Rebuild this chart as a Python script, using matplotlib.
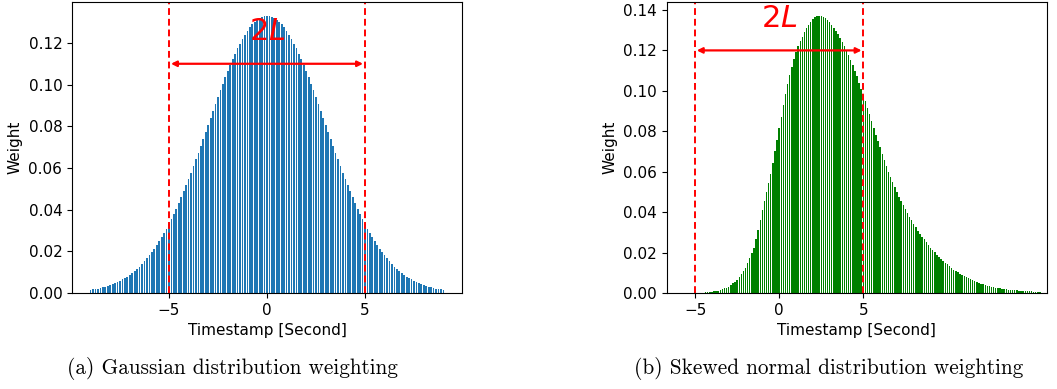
import numpy as np
import matplotlib
matplotlib.use("Agg")
import matplotlib.pyplot as plt

#------------------------------------------------------------------------------#
# Gaussian weights, one bar per 0.125 s from -9 s to 9 s

gauss_weights = [
    0.0015, 0.0017, 0.0019, 0.0021, 0.0024, 0.0027, 0.0030, 0.0034, 0.0038,
    0.0042, 0.0047, 0.0053, 0.0058, 0.0065, 0.0072, 0.0079, 0.0087, 0.0096,
    0.0106, 0.0116, 0.0127, 0.0139, 0.0152, 0.0166, 0.0180, 0.0196, 0.0212,
    0.0229, 0.0248, 0.0267, 0.0288, 0.0309, 0.0332, 0.0355, 0.0380, 0.0405,
    0.0432, 0.0459, 0.0488, 0.0517, 0.0547, 0.0578, 0.0609, 0.0641, 0.0673,
    0.0706, 0.0740, 0.0773, 0.0807, 0.0840, 0.0874, 0.0907, 0.0940, 0.0972,
    0.1004, 0.1035, 0.1065, 0.1094, 0.1122, 0.1149, 0.1174, 0.1197, 0.1219,
    0.1240, 0.1258, 0.1275, 0.1289, 0.1301, 0.1312, 0.1320, 0.1325, 0.1329,
    0.1330,
    0.1329, 0.1325, 0.1320, 0.1312, 0.1301, 0.1289, 0.1275, 0.1258, 0.1240,
    0.1219, 0.1197, 0.1174, 0.1149, 0.1122, 0.1094, 0.1065, 0.1035, 0.1004,
    0.0972, 0.0940, 0.0907, 0.0874, 0.0840, 0.0807, 0.0773, 0.0740, 0.0706,
    0.0673, 0.0641, 0.0609, 0.0578, 0.0547, 0.0517, 0.0488, 0.0459, 0.0432,
    0.0405, 0.0380, 0.0355, 0.0332, 0.0309, 0.0288, 0.0267, 0.0248, 0.0229,
    0.0212, 0.0196, 0.0180, 0.0166, 0.0152, 0.0139, 0.0127, 0.0116, 0.0106,
    0.0096, 0.0087, 0.0079, 0.0072, 0.0065, 0.0058, 0.0053, 0.0047, 0.0042,
    0.0038, 0.0034, 0.0030, 0.0027, 0.0024, 0.0021, 0.0019, 0.0017, 0.0015,
]
gauss_start, gauss_stop = -9.0, 9.0

# Skewed normal weights, one bar per 0.125 s from -5.5 s to 15.5 s
skew_weights = [
    0.0000, 0.0000, 0.0000, 0.0001, 0.0001, 0.0001, 0.0001, 0.0002,
    0.0002, 0.0003, 0.0004, 0.0005, 0.0006, 0.0008, 0.0010, 0.0012,
    0.0015, 0.0019, 0.0023, 0.0027, 0.0032, 0.0039, 0.0047, 0.0056,
    0.0065, 0.0078, 0.0092, 0.0108, 0.0125, 0.0147, 0.0171, 0.0197,
    0.0225, 0.0266, 0.0312, 0.0360, 0.0410, 0.0455, 0.0500, 0.0545,
    0.0590, 0.0645, 0.0700, 0.0758, 0.0815, 0.0872, 0.0930, 0.0985,
    0.1035, 0.1080, 0.1120, 0.1157, 0.1192, 0.1220, 0.1245, 0.1268,
    0.1290, 0.1310, 0.1327, 0.1342, 0.1355, 0.1363, 0.1368, 0.1371,
    0.1370, 0.1366, 0.1359, 0.1350, 0.1340, 0.1326, 0.1311, 0.1296,
    0.1280, 0.1261, 0.1241, 0.1221, 0.1200, 0.1176, 0.1151, 0.1126,
    0.1100, 0.1071, 0.1041, 0.1011, 0.0980, 0.0948, 0.0915, 0.0883,
    0.0850, 0.0817, 0.0784, 0.0752, 0.0720, 0.0689, 0.0659, 0.0629,
    0.0600, 0.0574, 0.0549, 0.0524, 0.0500, 0.0477, 0.0455, 0.0434,
    0.0414, 0.0395, 0.0377, 0.0359, 0.0342, 0.0325, 0.0309, 0.0294,
    0.0279, 0.0265, 0.0251, 0.0238, 0.0225, 0.0213, 0.0201, 0.0190,
    0.0179, 0.0169, 0.0159, 0.0150, 0.0141, 0.0132, 0.0124, 0.0116,
    0.0109, 0.0102, 0.0095, 0.0089, 0.0083, 0.0077, 0.0072, 0.0067,
    0.0062, 0.0058, 0.0054, 0.0050, 0.0046, 0.0043, 0.0040, 0.0037,
    0.0034, 0.0032, 0.0029, 0.0027, 0.0025, 0.0023, 0.0022, 0.0020,
    0.0019, 0.0017, 0.0016, 0.0015, 0.0014, 0.0013, 0.0012, 0.0011,
    0.0010, 0.0010, 0.0009, 0.0008, 0.0008, 0.0007, 0.0007, 0.0006,
    0.0006,
]
skew_start, skew_stop = -5.5, 15.5

half_window = 5        # L, in seconds
x_ticks     = [-5, 0, 5]
captions    = ["(a) Gaussian distribution weighting",
               "(b) Skewed normal distribution weighting"]

#------------------------------------------------------------------------------#

def draw_panel(ax, weights, start, stop, color, width, label_y, arrow_y):

    x = np.linspace(start, stop, len(weights))
    ax.bar(x, weights, width=width, color=color, linewidth=0)

    ax.axvline(-half_window, color='red', linestyle=(0, (3.5, 2)), linewidth=1.4)
    ax.axvline( half_window, color='red', linestyle=(0, (3.5, 2)), linewidth=1.4)

    ax.annotate("", xy=(half_window - 0.1, arrow_y), xytext=(-half_window + 0.1, arrow_y),
                arrowprops=dict(arrowstyle='<|-|>', color='red', lw=1.6,
                                mutation_scale=8, shrinkA=0, shrinkB=0))
    ax.text(0, label_y, "$2L$", color='red', fontsize=22, ha='center', va='center')

    ax.set_xticks(x_ticks)
    ax.set_xlabel("Timestamp [Second]")
    ax.set_ylabel("Weight")

#------------------------------------------------------------------------------#

plt.rcParams['font.size'] = 11

fig = plt.figure(figsize=(10.57, 3.89), dpi=100)

axL = fig.add_axes([0.0681, 0.2468, 0.3690, 0.7481])
axR = fig.add_axes([0.6307, 0.2468, 0.3600, 0.7481])

draw_panel(axL, gauss_weights, gauss_start, gauss_stop, '#1f77b4', 0.09, 0.1255, 0.110)
draw_panel(axR, skew_weights, skew_start, skew_stop, 'green', 0.085, 0.1360, 0.120)

axL.set_xlim(-9.95, 9.95)
axR.set_xlim(-6.69, 15.93)

fig.text(0.2200, 0.052, captions[0], family='cmr10', fontsize=15.3, ha='center', va='center')
fig.text(0.7838, 0.052, captions[1], family='cmr10', fontsize=15.3, ha='center', va='center')

fig.savefig("out.png", dpi=100)
